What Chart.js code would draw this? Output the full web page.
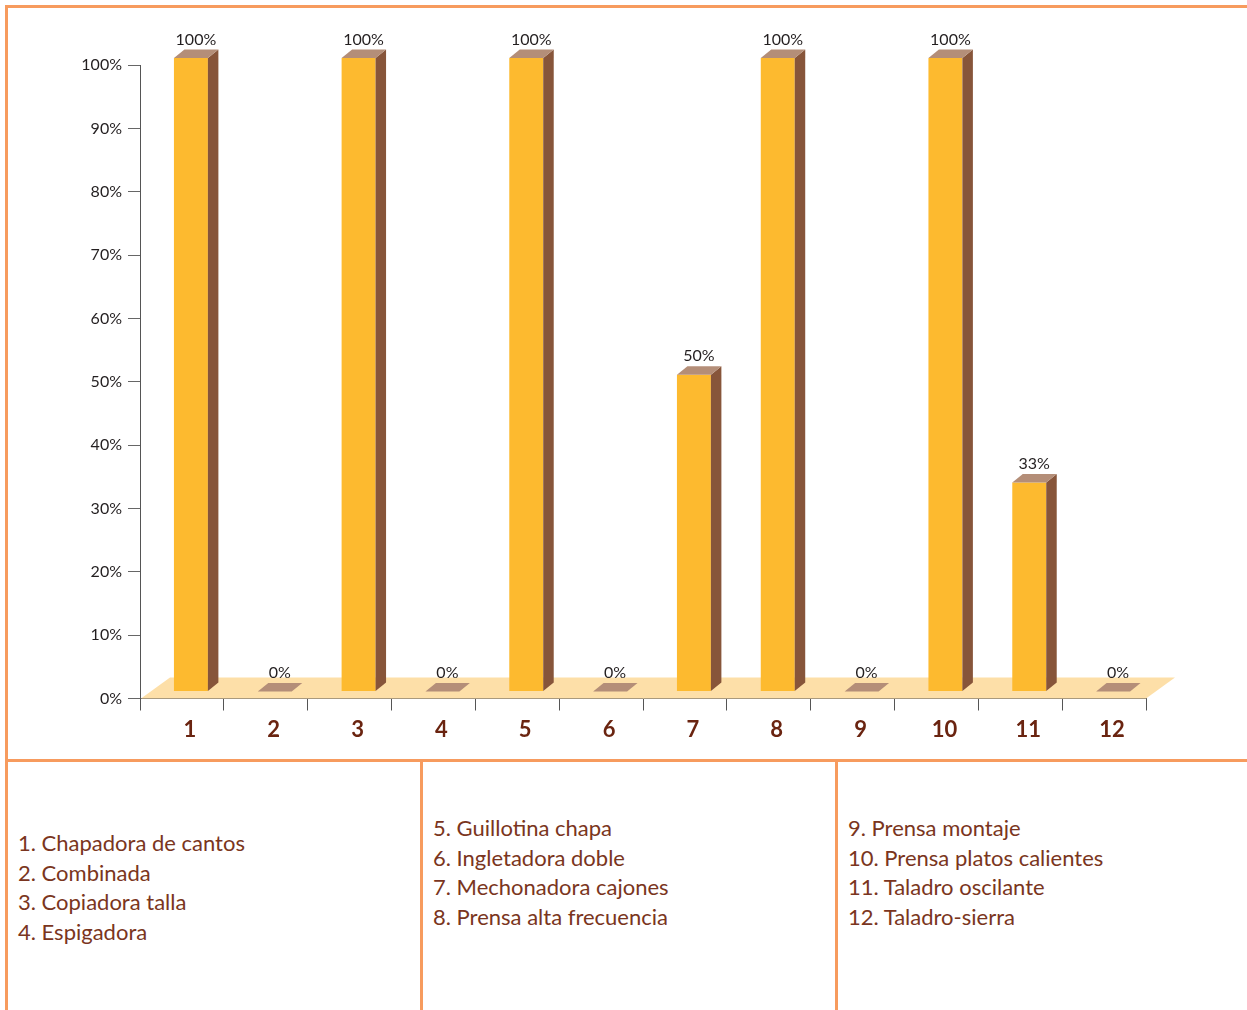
<!DOCTYPE html>
<html>
<head>
<meta charset="utf-8">
<script src="https://cdn.jsdelivr.net/npm/chart.js@4.4.0/dist/chart.umd.min.js"></script>
<style>
  body { margin: 0; background: #fff; }
  #wrap { position: relative; width: 1247px; height: 1010px; overflow: hidden; font-family: Lato, sans-serif; }
  #chartBox { position: absolute; left: 0; top: 0; width: 1247px; height: 760px; }
  .line { position: absolute; background: #F79B5E; }
  .col { position: absolute; color: #7A3520; font-size: 22px; line-height: 29.5px; white-space: nowrap; }
</style>
</head>
<body>
<div id="wrap">
  <div id="chartBox"><canvas id="myChart"></canvas></div>
  <div class="line" style="left:5px;top:5px;width:1242px;height:3px"></div>
  <div class="line" style="left:5px;top:5px;width:3px;height:1005px"></div>
  <div class="line" style="left:5px;top:759px;width:1242px;height:3px"></div>
  <div class="line" style="left:420px;top:759px;width:3px;height:251px"></div>
  <div class="line" style="left:835px;top:759px;width:3px;height:251px"></div>
  <div class="col" id="col1" style="left:18px;top:828px"></div>
  <div class="col" id="col2" style="left:433px;top:813px"></div>
  <div class="col" id="col3" style="left:848px;top:813px"></div>
</div>
<script>
var categories = ['1', '2', '3', '4', '5', '6', '7', '8', '9', '10', '11', '12'];
var values = [100, 0, 100, 0, 100, 0, 50, 100, 0, 100, 33, 0];
var yTicks = [0, 10, 20, 30, 40, 50, 60, 70, 80, 90, 100];
var machines = [
    'Chapadora de cantos', 'Combinada', 'Copiadora talla', 'Espigadora',
    'Guillotina chapa', 'Ingletadora doble', 'Mechonadora cajones', 'Prensa alta frecuencia',
    'Prensa montaje', 'Prensa platos calientes', 'Taladro oscilante', 'Taladro-sierra'
];

// legend columns, 4 names each
['col1', 'col2', 'col3'].forEach(function (id, c) {
    var html = '';
    for (var i = c * 4; i < c * 4 + 4; i++) {
        html += '<div>' + categories[i] + '. ' + machines[i] + '</div>';
    }
    document.getElementById(id).innerHTML = html;
});

// 3d look
var shiftX = 9, shiftY = -7;   // bars sit a bit behind the axis plane
var depthX = 10.5, depthY = 8.5;
var front = '#FDBA2F', side = '#87553A', topc = '#B48E78', floorc = '#FDDFA8';

var fake3d = {
    id: 'fake3d',
    beforeDatasetsDraw: function (chart) {
        var ctx = chart.ctx, a = chart.chartArea;
        var y0 = chart.scales.y.getPixelForValue(0);
        ctx.save();
        ctx.fillStyle = floorc;
        ctx.beginPath();
        ctx.moveTo(a.left + 1, y0);
        ctx.lineTo(a.left + 30, y0 - 21);
        ctx.lineTo(a.right + 29, y0 - 21);
        ctx.lineTo(a.right, y0);
        ctx.closePath();
        ctx.fill();
        ctx.restore();
        ctx.save();
        ctx.translate(shiftX, shiftY);
    },
    afterDatasetsDraw: function (chart) {
        var ctx = chart.ctx;
        ctx.restore();
        var meta = chart.getDatasetMeta(0);
        ctx.save();
        meta.data.forEach(function (el, i) {
            var w = el.width;
            var l = el.x + shiftX - w / 2, r = el.x + shiftX + w / 2;
            var t = el.y + shiftY, b = el.base + shiftY;
            if (values[i] > 0) {
                ctx.fillStyle = side;
                ctx.beginPath();
                ctx.moveTo(r, t);
                ctx.lineTo(r + depthX, t - depthY);
                ctx.lineTo(r + depthX, b - depthY);
                ctx.lineTo(r, b);
                ctx.closePath();
                ctx.fill();
            }
            ctx.fillStyle = topc;
            ctx.beginPath();
            ctx.moveTo(l, t);
            ctx.lineTo(l + depthX, t - depthY);
            ctx.lineTo(r + depthX, t - depthY);
            ctx.lineTo(r, t);
            ctx.closePath();
            ctx.fill();

            ctx.fillStyle = '#231F20';
            ctx.font = '16px Lato';
            ctx.textAlign = 'center';
            ctx.textBaseline = 'middle';
            ctx.fillText(values[i] + '%', (l + r) / 2 + 5, t - depthY - 10);
        });
        ctx.restore();
    }
};

var ctx = document.getElementById('myChart').getContext('2d');
var myChart = new Chart(ctx, {
    type: 'bar',
    data: {
        labels: categories,
        datasets: [
            {
                data: values,
                backgroundColor: front,
                borderWidth: 0,
                clip: false,
                categoryPercentage: 1,
                barPercentage: 0.405
            }
        ]
    },
    options: {
        responsive: true,
        maintainAspectRatio: false,
        animation: false,
        events: [],
        layout: {
            padding: { left: 0, top: 65, right: 101, bottom: 11.5 }
        },
        plugins: {
            legend: { display: false },
            tooltip: { enabled: false }
        },
        scales: {
            x: {
                grid: {
                    drawOnChartArea: false,
                    drawTicks: true,
                    tickLength: 12,
                    color: '#555',
                    offset: true
                },
                border: { color: '#555', width: 1 },
                ticks: {
                    color: '#6A2410',
                    font: { family: 'Lato', size: 22, weight: 'bold' },
                    padding: 6,
                    labelOffset: 8
                },
                afterFit: function (s) { s.height = 50; }
            },
            y: {
                min: 0,
                max: 100,
                afterBuildTicks: function (s) {
                    s.ticks = yTicks.map(function (v) { return { value: v }; });
                },
                grid: {
                    drawOnChartArea: false,
                    drawTicks: true,
                    tickLength: 12,
                    color: '#666'
                },
                border: { color: '#555', width: 1 },
                ticks: {
                    color: '#231F20',
                    font: { family: 'Lato', size: 16 },
                    padding: 6,
                    callback: function (v) { return v + '%'; }
                },
                afterFit: function (s) { s.width = 140; }
            }
        }
    },
    plugins: [fake3d]
});
</script>
</body>
</html>
